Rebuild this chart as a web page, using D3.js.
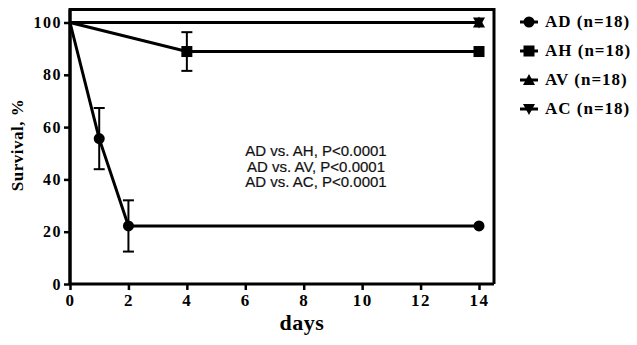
<!DOCTYPE html>
<html>
<head>
<meta charset="utf-8">
<script src="https://cdn.jsdelivr.net/npm/d3@7"></script>
<style>
  body { margin: 0; background: #fff; }
</style>
</head>
<body>
<div id="chart"></div>
<script>
// data
const seriesNames = ["AD (n=18)", "AH (n=18)", "AV (n=18)", "AC (n=18)"];
const adDays = [0, 1, 2, 14];
const adSurv = [100, 55.6, 22.2, 22.2];
const adErr = [0, 11.7, 9.8, 0];
const ahDays = [0, 4, 14];
const ahSurv = [100, 88.9, 88.9];
const ahErr = [0, 7.4, 0];
const avDays = [0, 14];
const avSurv = [100, 100];
const acDays = [0, 14];
const acSurv = [100, 100];
const xTicks = [0, 2, 4, 6, 8, 10, 12, 14];
const yTicks = [0, 20, 40, 60, 80, 100];
const statLines = ["AD vs. AH, P<0.0001", "AD vs. AV, P<0.0001", "AD vs. AC, P<0.0001"];

const W = 637, H = 345;
const serif = "'Liberation Serif', 'Times New Roman', serif";

const svg = d3.select("#chart").append("svg")
  .attr("width", W)
  .attr("height", H);

const xscale = d3.scaleLinear().domain([0, 14]).range([70, 479]);
const yscale = d3.scaleLinear().domain([0, 100]).range([284, 22.5]);

// frame (top + right), axes drawn after
svg.append("path")
  .attr("d", `M70,284 V9.5 H494 V284`)
  .attr("fill", "none")
  .attr("stroke", "black")
  .attr("stroke-width", 3);

const xAxis = d3.axisBottom(xscale).tickValues(xTicks).tickSize(6).tickPadding(4).tickFormat(d3.format("d"));
const yAxis = d3.axisLeft(yscale).tickValues(yTicks).tickSize(6).tickPadding(2).tickFormat(d3.format("d"));

const gx = svg.append("g")
  .attr("class", "x axis")
  .attr("transform", "translate(0,284)")
  .call(xAxis)
  .attr("font-family", serif)
  .attr("font-weight", "bold");
gx.select(".domain").attr("d", "M70,0 H494").attr("stroke-width", 3);
gx.selectAll(".tick line").attr("stroke-width", 2.5);
gx.selectAll(".tick text")
  .attr("font-size", 17)
  .attr("fill", "black")
  .style("letter-spacing", "1.5px");

const gy = svg.append("g")
  .attr("class", "y axis")
  .attr("transform", "translate(70,0)")
  .call(yAxis)
  .attr("font-family", serif)
  .attr("font-weight", "bold");
gy.select(".domain").attr("d", "M0,284 V9.5").attr("stroke-width", 3);
gy.selectAll(".tick line").attr("stroke-width", 2.5);
gy.selectAll(".tick text")
  .attr("font-size", 16)
  .attr("fill", "black")
  .style("letter-spacing", "1.5px");

// axis titles
svg.append("text")
  .attr("transform", "translate(23,145) rotate(-90)")
  .attr("text-anchor", "middle")
  .attr("font-family", serif)
  .attr("font-weight", "bold")
  .attr("font-size", 17)
  .style("letter-spacing", "0.5px")
  .text("Survival, %");

svg.append("text")
  .attr("x", 302)
  .attr("y", 330)
  .attr("text-anchor", "middle")
  .attr("font-family", serif)
  .attr("font-weight", "bold")
  .attr("font-size", 22)
  .style("letter-spacing", "0.5px")
  .text("days");

const line = d3.line()
  .x(d => xscale(d[0]))
  .y(d => yscale(d[1]));

const zip = (a, b) => a.map((v, i) => [v, b[i]]);

const series = [
  { days: avDays, surv: avSurv, err: null, sym: "up" },
  { days: acDays, surv: acSurv, err: null, sym: "down" },
  { days: ahDays, surv: ahSurv, err: ahErr, sym: "square" },
  { days: adDays, surv: adSurv, err: adErr, sym: "circle" }
];

function drawMarker(g, sym, cx, cy) {
  if (sym === "circle") {
    g.append("circle").attr("cx", cx).attr("cy", cy).attr("r", 5.5).attr("fill", "black");
  } else if (sym === "square") {
    g.append("rect").attr("x", cx - 5.5).attr("y", cy - 5.5).attr("width", 11).attr("height", 11).attr("fill", "black");
  } else if (sym === "up") {
    g.append("path").attr("d", `M${cx},${cy - 6} L${cx + 6},${cy + 5} L${cx - 6},${cy + 5} Z`).attr("fill", "black");
  } else if (sym === "down") {
    g.append("path").attr("d", `M${cx},${cy + 6} L${cx + 6},${cy - 5} L${cx - 6},${cy - 5} Z`).attr("fill", "black");
  }
}

series.forEach(s => {
  const pts = zip(s.days, s.surv);
  svg.append("path")
    .datum(pts)
    .attr("d", line)
    .attr("fill", "none")
    .attr("stroke", "black")
    .attr("stroke-width", 3);

  if (s.err) {
    s.days.forEach((d, i) => {
      if (!s.err[i]) return;
      const x = xscale(d);
      const y1 = yscale(s.surv[i] - s.err[i]);
      const y2 = yscale(s.surv[i] + s.err[i]);
      const eg = svg.append("g").attr("stroke", "black").attr("stroke-width", 2);
      eg.append("line").attr("x1", x).attr("x2", x).attr("y1", y1).attr("y2", y2);
      eg.append("line").attr("x1", x - 5.5).attr("x2", x + 5.5).attr("y1", y1).attr("y2", y1);
      eg.append("line").attr("x1", x - 5.5).attr("x2", x + 5.5).attr("y1", y2).attr("y2", y2);
    });
  }

  // no symbol at day 0 (hidden under the axis in the original)
  pts.slice(1).forEach(p => drawMarker(svg, s.sym, xscale(p[0]), yscale(p[1])));
});

// statistics text
svg.append("g")
  .selectAll("text")
  .data(statLines)
  .enter().append("text")
  .attr("x", 316)
  .attr("y", (d, i) => 156 + i * 15.5)
  .attr("text-anchor", "middle")
  .attr("font-family", "'Liberation Sans', Arial, sans-serif")
  .attr("font-size", 15)
  .attr("fill", "#111")
  .attr("stroke", "#111")
  .attr("stroke-width", 0.2)
  .text(d => d);

// legend
const legSyms = ["circle", "square", "up", "down"];
const leg = svg.append("g");
seriesNames.forEach((name, i) => {
  const y = 22 + i * 29;
  leg.append("line")
    .attr("x1", 520).attr("x2", 538)
    .attr("y1", y).attr("y2", y)
    .attr("stroke", "black")
    .attr("stroke-width", 3);
  drawMarker(leg, legSyms[i], 529, y);
  leg.append("text")
    .attr("x", 545)
    .attr("y", y + 5)
    .attr("font-family", serif)
    .attr("font-weight", "bold")
    .attr("font-size", 17)
    .style("letter-spacing", "1px")
    .text(name);
});
</script>
</body>
</html>
